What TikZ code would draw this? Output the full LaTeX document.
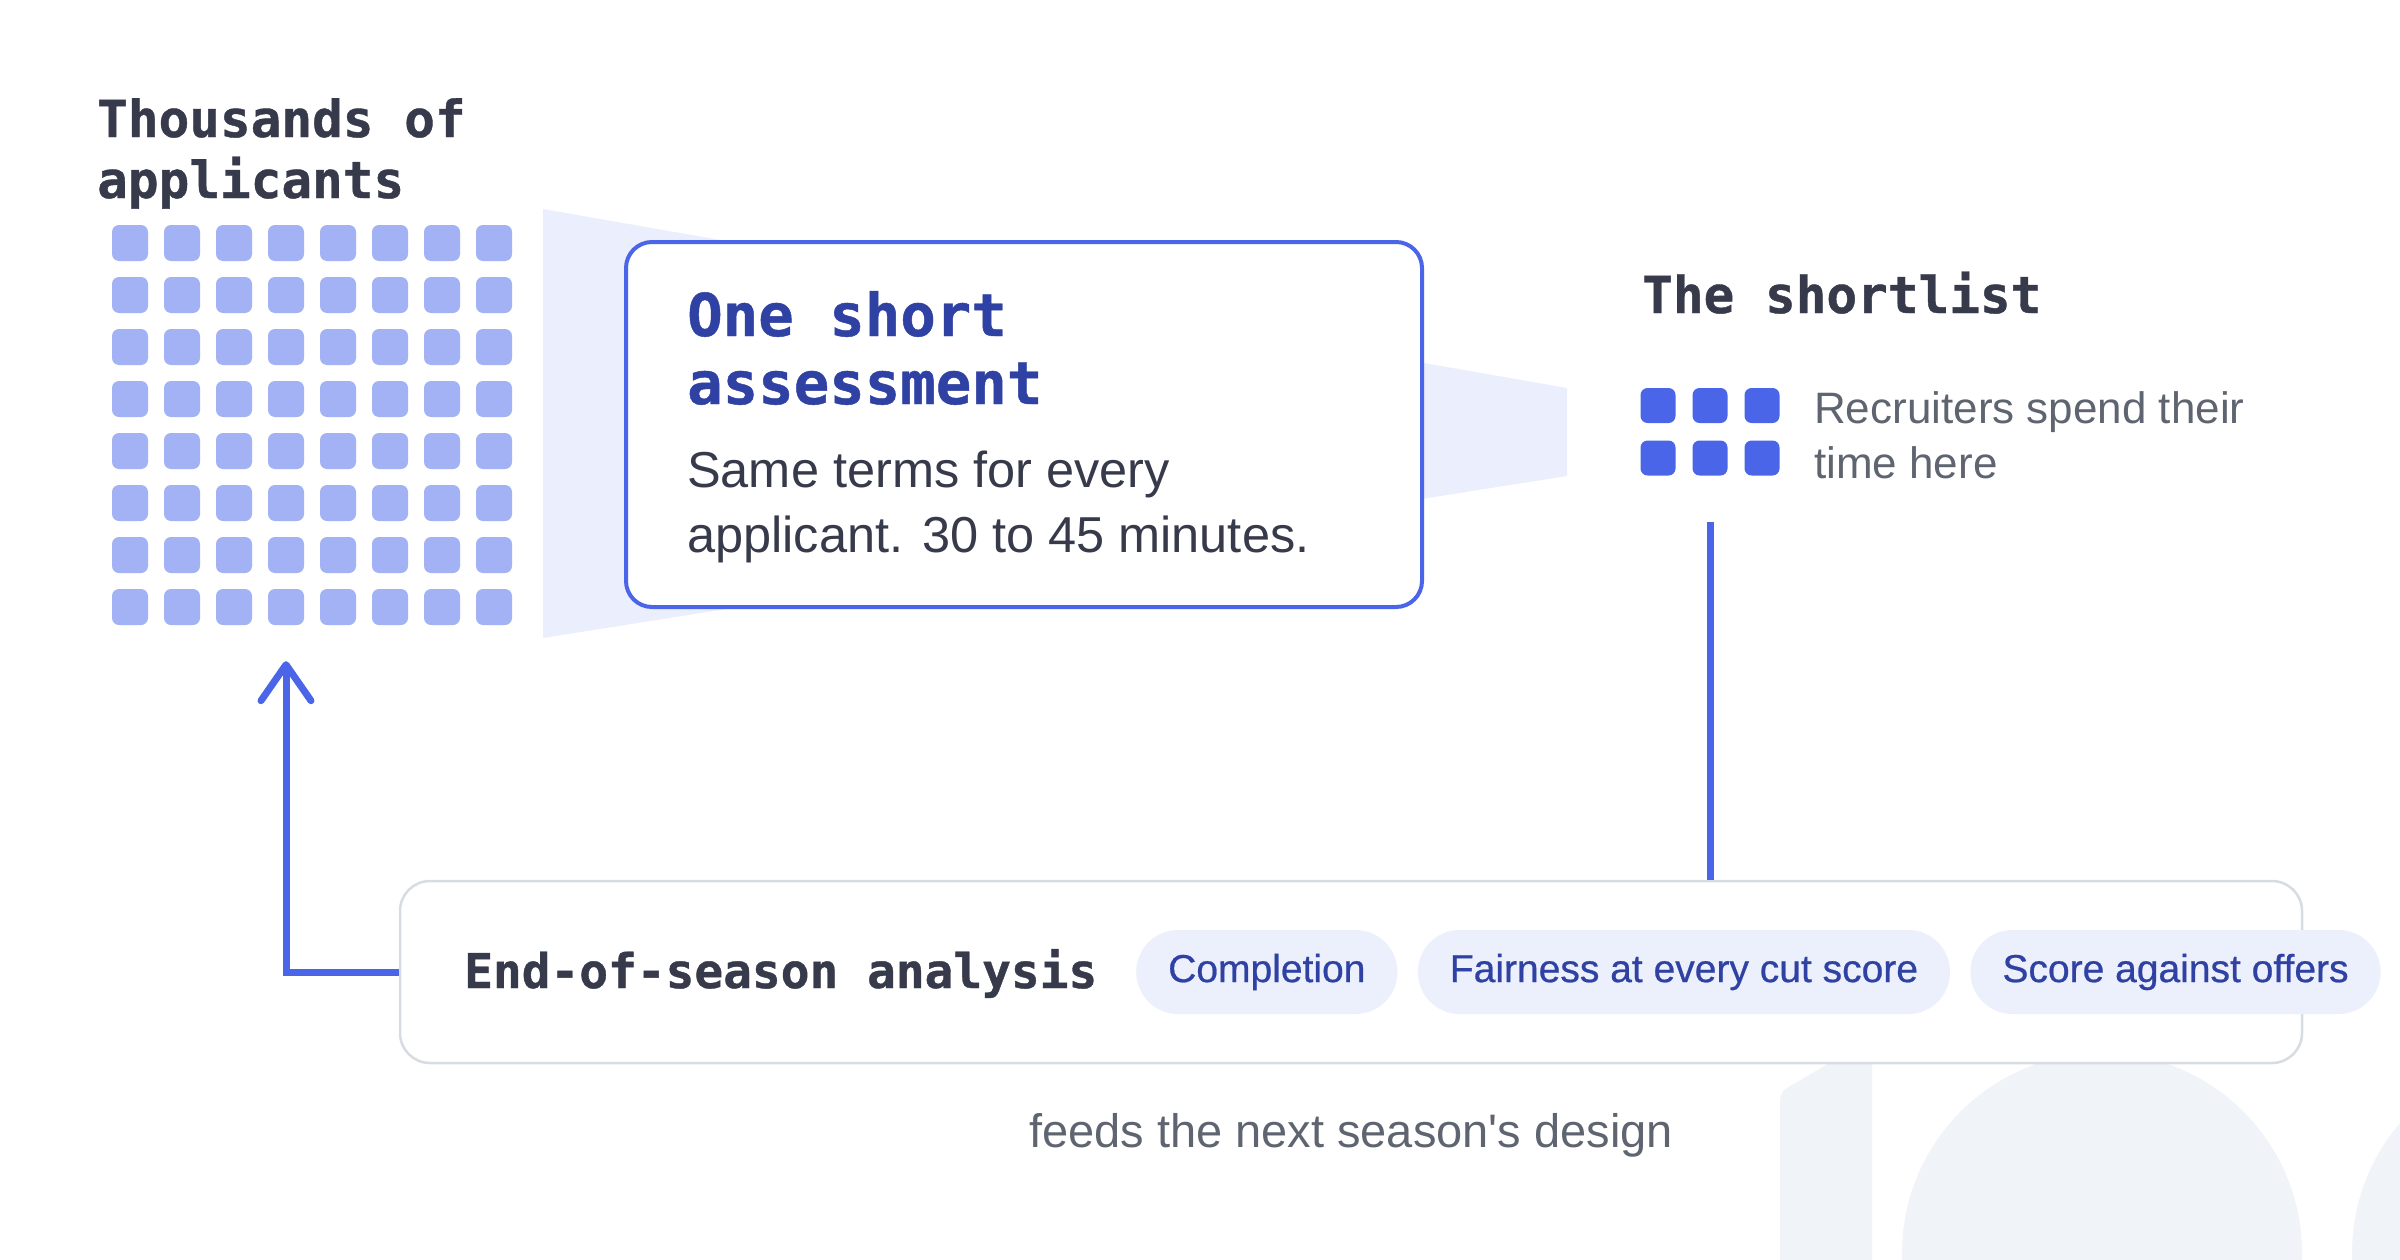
\documentclass[tikz,border=0pt]{standalone}
\usepackage{fontspec}
\setmainfont[Ligatures=TeXOff]{Liberation Sans}
\setmonofont[BoldFeatures={FakeBold=0.8}]{DejaVu Sans Mono}
\newfontfamily\pillfont[FakeBold=0.6]{Liberation Sans}
\usetikzlibrary{positioning,arrows.meta}
\definecolor{accent}{HTML}{4A65E8}
\definecolor{accentdark}{HTML}{2F42A3}
\definecolor{applicantfill}{HTML}{A3B2F4}
\definecolor{funnelfill}{HTML}{EBEEFD}
\definecolor{pillfill}{HTML}{ECEFFC}
\definecolor{ink}{HTML}{373A4A}
\definecolor{muted}{HTML}{5E6570}
\definecolor{rulegray}{HTML}{D6DCE2}
\definecolor{ghost}{HTML}{F0F3F7}
\begin{document}
\begin{tikzpicture}[x=1pt,y=-1pt,
    applicant/.style={fill=applicantfill, rounded corners=7pt, minimum size=36pt, inner sep=0pt},
    picked/.style={fill=accent, rounded corners=7pt, minimum size=35pt, inner sep=0pt},
    heading/.style={font=\ttfamily\bfseries\fontsize{51}{61}\selectfont, text=ink, anchor=base west, inner sep=0pt, align=left},
    note/.style={font=\fontsize{44}{55}\selectfont, text=muted, anchor=base west, inner sep=0pt, align=left},
    pill/.style={fill=pillfill, rounded corners=42pt, minimum height=84pt, inner xsep=32pt, inner ysep=0pt, text=accentdark, font=\pillfont\fontsize{39}{39}\selectfont},
    flow/.style={draw=accent, line width=7pt}]
    \useasboundingbox (0,0) rectangle (2400,1260);

    % letters in the background
    \fill[ghost, rounded corners=8pt] (1780,1290) -- (1780,1092) -- (1872,1038) -- (1872,1290) -- cycle;
    \fill[ghost] (2102,1253) circle[radius=200] (2552,1253) circle[radius=200];

    % funnel
    \fill[funnelfill] (543,209) -- (1567,388) -- (1567,476) -- (543,638) -- cycle;

    % applicant pool
    \foreach \i in {1,...,8}
        \foreach \j in {1,...,8}
            \node[applicant] (a-\i-\j) at ({130+52*(\i-1)},{243+52*(\j-1)}) {};
    \node[heading] (pool) at (97,198) {Thousands of\\applicants};

    % assessment
    \node[draw=accent, line width=4pt, fill=white, rounded corners=26pt, minimum width=796pt, minimum height=365pt] (assess) at (1024,424.5) {};
    \node[heading, text=accentdark, font=\ttfamily\bfseries\fontsize{59}{68}\selectfont] (assesstitle) at (687,404) {One short\\assessment};
    \node[note, text=ink, font=\fontsize{50.5}{65}\selectfont] (assessnote) at (687,552) {Same terms for every\\applicant. 30 to 45 minutes.};

    % shortlist
    \node[heading] (shorttitle) at (1642,313) {The shortlist};
    \foreach \i in {1,2,3}
        \foreach \j in {1,2}
            \node[picked] (s-\i-\j) at ({1658+52*(\i-1)},{405.5+52.5*(\j-1)}) {};
    \node[note] (shortnote) at (1814,478) {Recruiters spend their\\time here};

    % analysis
    \node[draw=rulegray, line width=2.5pt, fill=white, rounded corners=30pt, minimum width=1902pt, minimum height=182pt] (analysis) at (1351,972) {};
    \node[heading, font=\ttfamily\bfseries\fontsize{47.8}{56}\selectfont] (analysistitle) at (464,988) {End-of-season analysis};
    \node[pill, anchor=west] (completion) at (1136,972) {Completion};
    \node[pill, right=20pt of completion] (fairness) {Fairness at every cut score};
    \node[pill, right=20pt of fairness] (offers) {Score against offers};
    \node[note, anchor=base, font=\fontsize{47}{55}\selectfont] (feedback) at (1351,1147) {feeds the next season's design};

    % connectors
    \draw[flow] ([yshift=-46pt]s-2-2.south) -- (analysis.north -| s-2-2.south);
    \draw[flow, -{Straight Barb[length=36pt, width=50pt, round]}] (analysis.west) -| ([yshift=-36pt]a-4-8.south);
\end{tikzpicture}
\end{document}
